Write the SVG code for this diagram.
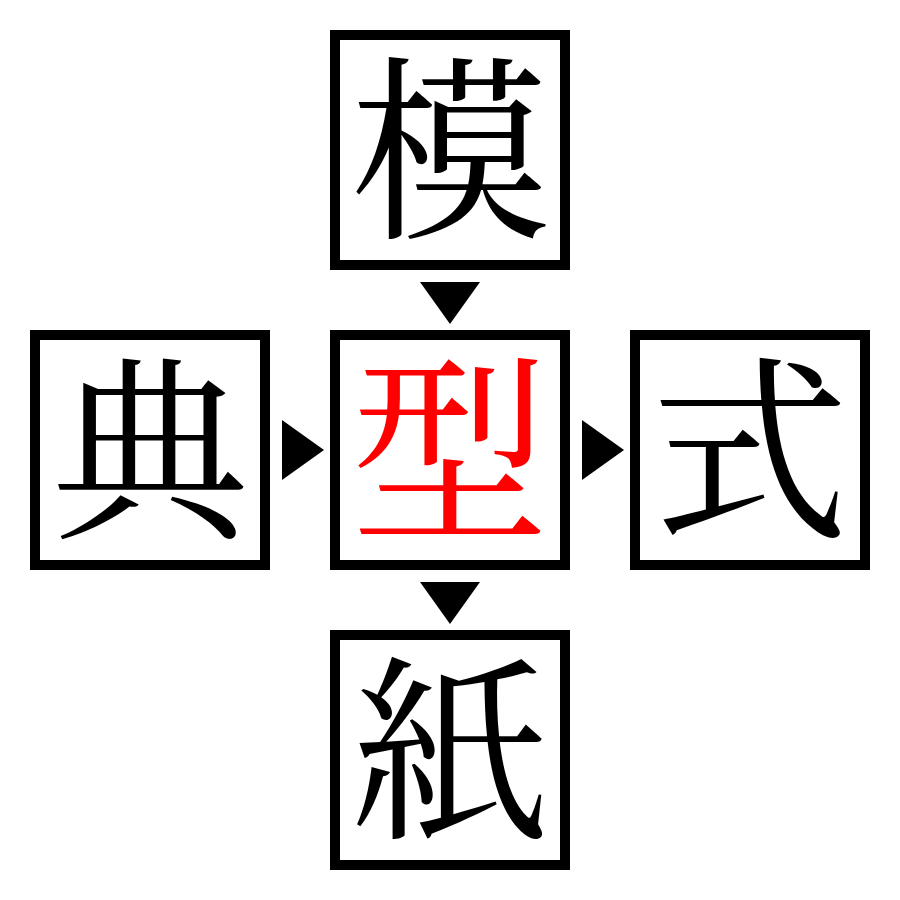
<svg xmlns="http://www.w3.org/2000/svg" width="900" height="900" viewBox="0 0 900 900">
<style>
.box{fill:#fff;stroke:#000;stroke-width:10}
.ch{font-family:"Noto Serif CJK JP","Noto Sans CJK JP",serif;font-size:198px;text-anchor:middle;fill:#000}
.red{fill:#f00}
.arr{fill:#000}
</style>
<rect width="900" height="900" fill="#fff"/>
<g id="connectors">
<polygon class="arr" points="420,282 480,282 450,324"/>
<polygon class="arr" points="420,582 480,582 450,624"/>
<polygon class="arr" points="282,420 282,480 324,450"/>
<polygon class="arr" points="582,420 582,480 624,450"/>
</g>
<g id="node-top"><rect class="box" x="335" y="35" width="230" height="230"/><text class="ch" x="450" y="223">模</text></g>
<g id="node-left"><rect class="box" x="35" y="335" width="230" height="230"/><text class="ch" x="150" y="523">典</text></g>
<g id="node-center"><rect class="box" x="335" y="335" width="230" height="230"/><text class="ch red" x="450" y="523">型</text></g>
<g id="node-right"><rect class="box" x="635" y="335" width="230" height="230"/><text class="ch" x="750" y="523">式</text></g>
<g id="node-bottom"><rect class="box" x="335" y="635" width="230" height="230"/><text class="ch" x="450" y="823">紙</text></g>
</svg>
